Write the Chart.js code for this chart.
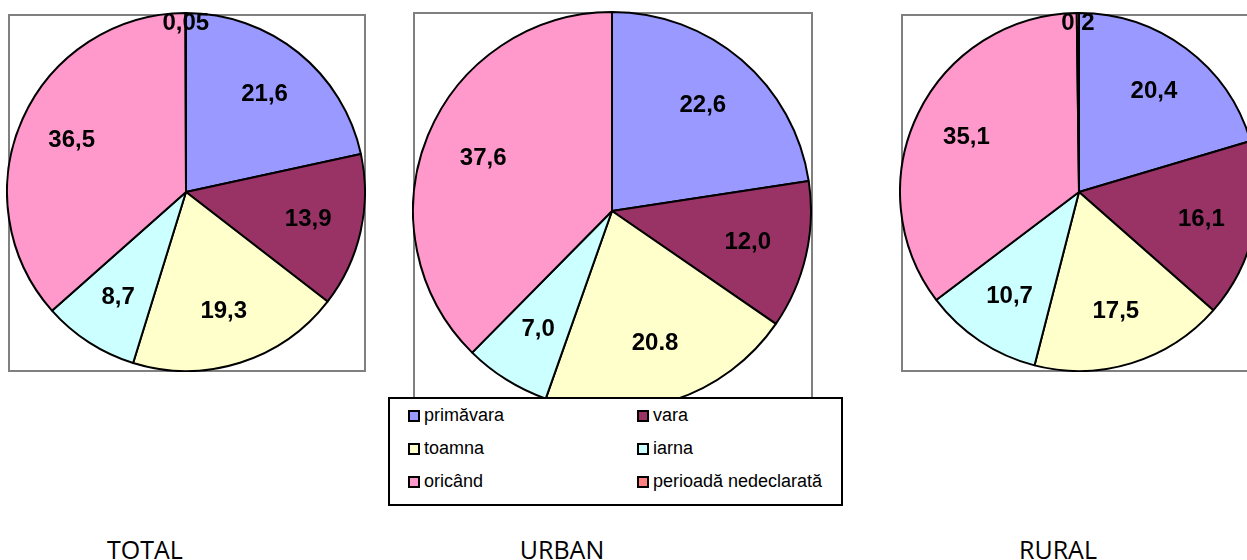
<!DOCTYPE html>
<html>
<head>
<meta charset="utf-8">
<script src="https://cdn.jsdelivr.net/npm/chart.js@4/dist/chart.umd.min.js"></script>
<style>
    body{margin:0;width:1247px;height:560px;overflow:hidden;background:#fff;position:relative;font-family:"Liberation Sans",Arial,sans-serif}
    .box{position:absolute;border:2px solid #808080;box-sizing:border-box}
    .pie{position:absolute}
    #legend{position:absolute;left:388px;top:397px;width:455px;height:109px;border:2px solid #000;box-sizing:border-box;background:#fff}
    .item{position:absolute;font-size:18px;line-height:20px;color:#000;white-space:nowrap}
    .sq{display:inline-block;width:8px;height:8px;border:2px solid #000;margin-right:4px;vertical-align:-1px}
    .title{position:absolute;top:532px;font-family:"Open Sans",sans-serif;font-size:25px;color:#000;transform:translateX(-50%)}
</style>
</head>
<body>
<div class="box" style="left:8px;top:14px;width:358px;height:358px"></div>
<div class="box" style="left:413px;top:12px;width:400px;height:420px"></div>
<div class="box" style="left:901px;top:14px;width:400px;height:358px"></div>

<canvas id="total" class="pie" style="left:6px;top:12px"></canvas>
<canvas id="urban" class="pie" style="left:412px;top:11px"></canvas>
<canvas id="rural" class="pie" style="left:899px;top:12px"></canvas>

<div id="legend"></div>

<div class="title" style="left:145px">TOTAL</div>
<div class="title" style="left:562px">URBAN</div>
<div class="title" style="left:1058px">RURAL</div>

<script>
// categories (clockwise from 12 o'clock)
var categories = ["primăvara","vara","toamna","iarna","oricând","perioadă nedeclarată"];
var colors = ["#9999FF","#993366","#FFFFCC","#CCFFFF","#FF99CC","#FF8080"];

// values
var totalValues = [21.6, 13.9, 19.3, 8.7, 36.5, 0.05];
var urbanValues = [22.6, 12.0, 20.8, 7.0, 37.6, 0];
var ruralValues = [20.4, 16.1, 17.5, 10.7, 35.1, 0.2];

// value labels as printed
var totalLabels = ["21,6","13,9","19,3","8,7","36,5","0,05"];
var urbanLabels = ["22,6","12,0","20.8","7,0","37,6",""];
var ruralLabels = ["20,4","16,1","17,5","10,7","35,1","0,2"];

// draws value text inside slices
var sliceLabels = {
    id: "sliceLabels",
    afterDatasetsDraw(chart, args, opts){
        var ctx = chart.ctx;
        var meta = chart.getDatasetMeta(0);
        ctx.save();
        ctx.font = "bold 24px 'Liberation Sans', Arial, sans-serif";
        ctx.fillStyle = "#000";
        ctx.textAlign = "center";
        ctx.textBaseline = "middle";
        meta.data.forEach((arc, i) => {
            var txt = opts.texts[i];
            if(!txt) return;
            var p = arc.getProps(["x","y","startAngle","endAngle","outerRadius"], true);
            var mid = (p.startAngle + p.endAngle) / 2;
            var small = (p.endAngle - p.startAngle) < 0.05;
            var r = p.outerRadius * (small ? 0.94 : 0.7);
            ctx.fillText(txt, p.x + Math.cos(mid) * r, p.y + Math.sin(mid) * r);
        });
        ctx.restore();
    }
};

function makePie(id, size, values, texts){
    var cv = document.getElementById(id);
    cv.width = size; cv.height = size;
    cv.style.width = size + "px"; cv.style.height = size + "px";
    return new Chart(cv, {
        type: "pie",
        data: {
            labels: categories,
            datasets: [{
                data: values,
                backgroundColor: colors,
                borderColor: "#000",
                borderWidth: 2
            }]
        },
        options: {
            responsive: false,
            animation: false,
            layout: { padding: 0 },
            plugins: {
                legend: { display: false },
                tooltip: { enabled: false },
                sliceLabels: { texts: texts }
            }
        },
        plugins: [sliceLabels]
    });
}

makePie("total", 360, totalValues, totalLabels);
makePie("urban", 400, urbanValues, urbanLabels);
makePie("rural", 360, ruralValues, ruralLabels);

// legend, two columns
var legend = document.getElementById("legend");
categories.forEach((c, i) => {
    var d = document.createElement("div");
    d.className = "item";
    d.style.left = (i % 2 == 0 ? 18 : 247) + "px";
    d.style.top = (6 + Math.floor(i / 2) * 33) + "px";
    d.innerHTML = '<span class="sq" style="background:' + colors[i] + '"></span>' + c;
    legend.appendChild(d);
});
</script>
</body>
</html>
